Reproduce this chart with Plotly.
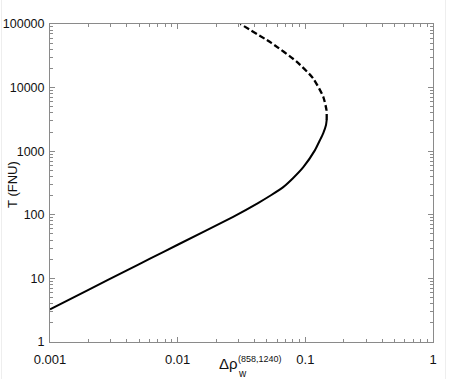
import plotly.graph_objects as go

# Stable branch (solid)
solid_x = [0.001, 0.002, 0.004, 0.00607, 0.01, 0.0272, 0.0426, 0.0538, 0.0671, 0.080, 0.0964, 0.119, 0.1303, 0.138, 0.1452, 0.147]
solid_y = [3.27, 6.6, 13.4, 20.4, 33.8, 93, 153, 203, 272, 375, 560, 1040, 1500, 1910, 2582, 3100]

# Unstable branch (dashed)
dash_x = [0.147, 0.1465, 0.138, 0.115, 0.0855, 0.0545, 0.031]
dash_y = [3100, 4400, 7200, 14000, 25600, 50000, 100000]

x_ticks = [0.001, 0.01, 0.1, 1]
x_ticklabels = ["0.001", "0.01", "0.1", "1"]
y_ticks = [1, 10, 100, 1000, 10000, 100000]
y_ticklabels = ["1", "10", "100", "1000", "10000", "100000"]

x_minor = [m * 10.0 ** e for e in range(-3, 0) for m in range(2, 10)]
y_minor = [m * 10.0 ** e for e in range(0, 5) for m in range(2, 10)]

FONT = "Liberation Sans, Arial, sans-serif"
AX = "#8a8a8a"

fig = go.Figure()
fig.add_trace(go.Scatter(x=solid_x, y=solid_y, mode="lines",
                         line=dict(color="black", width=2, shape="spline", smoothing=0.5),
                         showlegend=False, hoverinfo="skip"))
fig.add_trace(go.Scatter(x=dash_x, y=dash_y, mode="lines",
                         line=dict(color="black", width=2.3, dash="6px,3px", shape="spline", smoothing=0.6),
                         showlegend=False, hoverinfo="skip"))

axis_common = dict(
    type="log", showgrid=False, zeroline=False, automargin=False,
    showline=True, linecolor=AX, linewidth=1, mirror="ticks",
    ticks="inside", ticklen=5, tickcolor=AX, tickwidth=1,
)

fig.update_xaxes(range=[-3, 0], tickvals=x_ticks, ticktext=x_ticklabels, ticklabelstandoff=5,
                 tickfont=dict(family=FONT, size=13, color="#111"),
                 minor=dict(ticks="inside", ticklen=3, tickcolor=AX, showgrid=False, tickvals=x_minor),
                 **axis_common)
fig.update_yaxes(range=[0, 5], tickvals=y_ticks, ticktext=y_ticklabels, ticklabelstandoff=2,
                 tickfont=dict(family=FONT, size=12.5, color="#111"),
                 minor=dict(ticks="inside", ticklen=3, tickcolor=AX, showgrid=False, tickvals=y_minor),
                 **axis_common)

fig.update_layout(
    width=451, height=379,
    margin=dict(l=50, r=18, t=24, b=37),
    paper_bgcolor="white", plot_bgcolor="white",
    font=dict(family=FONT, color="#111"),
    annotations=[
        dict(text="T (FNU)", x=-0.0966, y=0.494, xref="paper", yref="paper",
             textangle=-90, showarrow=False, font=dict(size=13, family=FONT),
             xanchor="center", yanchor="middle"),
        dict(text="Δρ", x=0.465, y=-0.069, xref="paper", yref="paper",
             showarrow=False, font=dict(size=15, family=FONT),
             xanchor="center", yanchor="middle"),
        dict(text="(858,1240)", x=0.4856, y=-0.0535, xref="paper", yref="paper",
             showarrow=False, font=dict(size=9, family=FONT),
             xanchor="left", yanchor="middle"),
        dict(text="w", x=0.4856, y=-0.0975, xref="paper", yref="paper",
             showarrow=False, font=dict(size=10, family=FONT),
             xanchor="left", yanchor="middle"),
    ],
    shapes=[
        dict(type="line", xref="paper", yref="paper",
             x0=(1.5 - 50) / 383, x1=(1.5 - 50) / 383, y0=(342 - 0) / 318, y1=(342 - 379) / 318,
             line=dict(color="#eeeeee", width=1)),
        dict(type="line", xref="paper", yref="paper",
             x0=(445.5 - 50) / 383, x1=(445.5 - 50) / 383, y0=(342 - 0) / 318, y1=(342 - 379) / 318,
             line=dict(color="#eeeeee", width=1)),
    ],
)

fig.write_html("out.html")
